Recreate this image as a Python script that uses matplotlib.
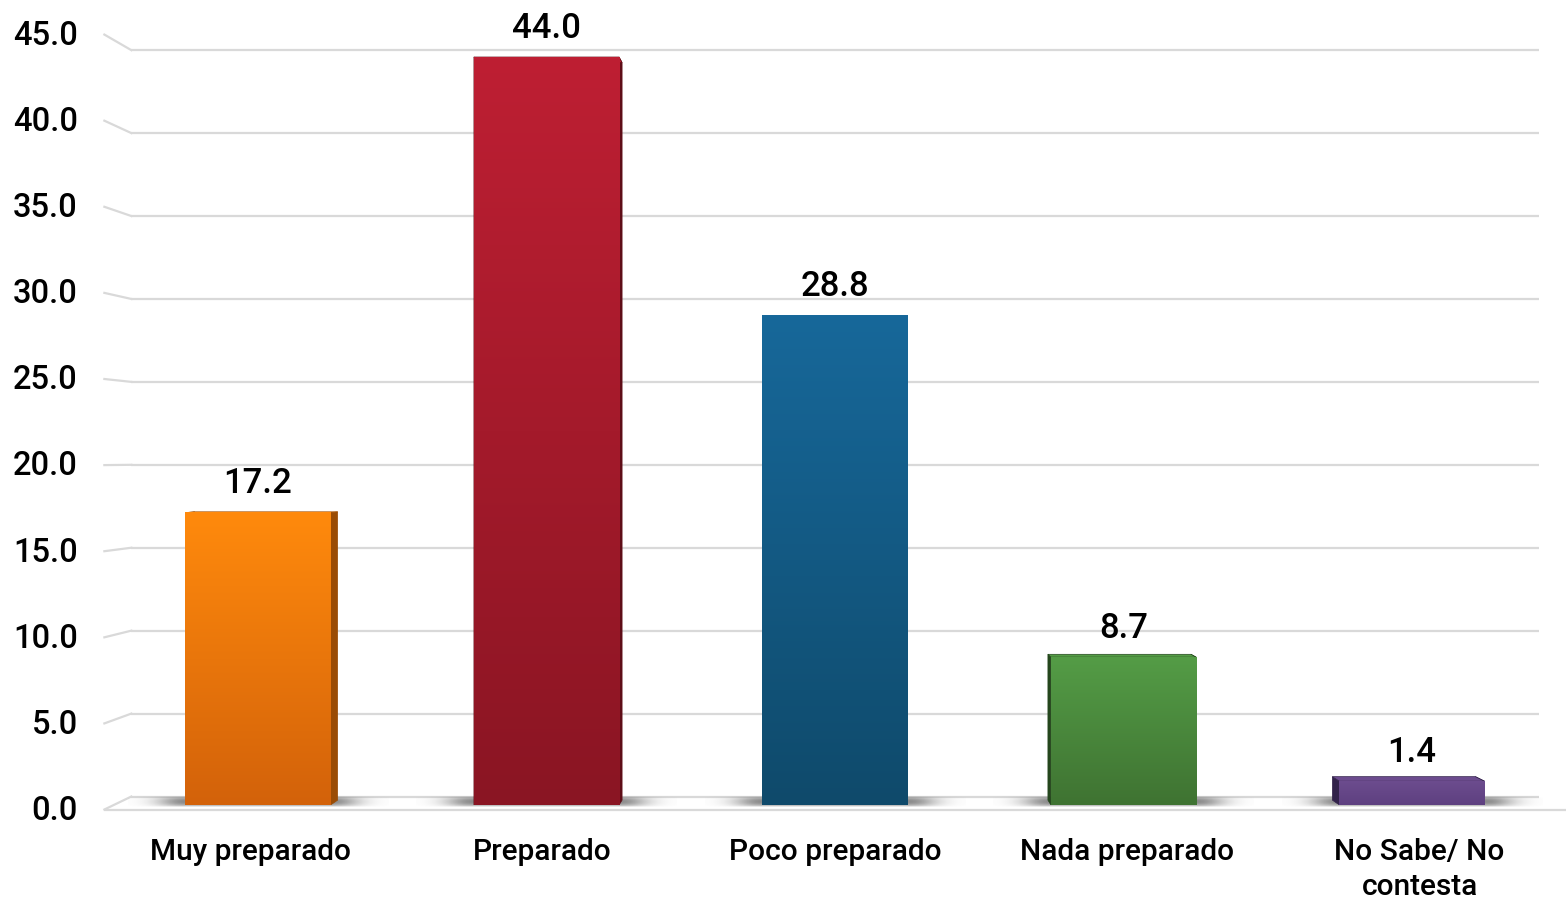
import matplotlib
matplotlib.use('Agg')
import matplotlib.pyplot as plt
import numpy as np
from matplotlib.colors import to_rgb
from matplotlib.patches import Polygon

plt.rcParams['font.family'] = ['Roboto', 'Liberation Sans', 'DejaVu Sans']
plt.rcParams['font.weight'] = 'medium'

# data
categories = ['Muy preparado', 'Preparado', 'Poco preparado', 'Nada preparado', 'No Sabe/ No\ncontesta']
values = [17.2, 44.0, 28.8, 8.7, 1.4]
yticks = [0, 5, 10, 15, 20, 25, 30, 35, 40, 45]

# colours per bar: gradient top, gradient bottom, side face
top_cols = ['#ff8a0d', '#be1f33', '#17689a', '#549c46', '#6c4c8e']
bot_cols = ['#d3620a', '#8a1523', '#0f4a6b', '#3f7332', '#5e4080']
side_cols = ['#9a4c05', '#5e0d17', '#0b3550', '#24461c', '#32224a']
grid_col = '#d9d9d9'

# perspective: planes scaled about a vanishing point (in data units)
VX, VY = 2.0, 20.47
FRONT = 1.013   # front edge of floor / tick labels
BAR_BACK = 0.986
BACK = 0.9757   # back wall
W = 0.503


def proj(x, y, s):
    return VX + (np.asarray(x) - VX) * s, VY + (np.asarray(y) - VY) * s


fig = plt.figure(figsize=(15.66, 9.01), dpi=100)
ax = fig.add_axes([113.75 / 1566, 96 / 901, 1442.5 / 1566, 765 / 901])
ax.set_xlim(-0.5, 4.5)
ax.set_ylim(0, 45)
ax.axis('off')

# back wall gridlines + left wall diagonals
for v in yticks:
    bx, by = proj([-0.5, 4.5], [v, v], BACK)
    ax.plot(bx, by, color=grid_col, lw=1.6, clip_on=False, zorder=1, solid_capstyle='butt')
    fx, fy = proj(-0.5, v, FRONT)
    ax.plot([fx, bx[0]], [fy, by[0]], color=grid_col, lw=1.6, clip_on=False, zorder=1)
    ax.annotate(f'{v:.1f}', (fx, fy), xytext=(-19, -1), textcoords='offset points',
                ha='right', va='center', fontsize=23.5, color='black', annotation_clip=False)

# floor front edge
fx, fy = proj([-0.5, 4.5], [0, 0], FRONT)
ax.plot(fx, fy, color=grid_col, lw=1.6, clip_on=False, zorder=1, solid_capstyle='butt')

for i, v in enumerate(values):
    x0, x1 = i - W / 2, i + W / 2

    # floor shadow
    sx0, sx1 = x0 - 0.2, x1 + 0.2
    xs = np.linspace(sx0, sx1, 300)
    ys = np.linspace(0, 1, 30)
    d = np.clip(np.maximum(x0 - xs, xs - x1), 0, None)
    hprof = np.exp(-(d / 0.1) ** 2)
    vprof = np.sin(np.pi * ys) ** 0.6
    alpha = 0.65 * np.outer(vprof, hprof)
    shadow = np.zeros((30, 300, 4))
    shadow[..., :3] = 0.3
    shadow[..., 3] = alpha
    ax.imshow(shadow, extent=[sx0, sx1, -0.12, 0.5], aspect='auto', origin='lower',
              zorder=2, interpolation='bilinear', clip_on=False)

    # side and top faces
    side = side_cols[i]
    for xe in (x0, x1):
        px, py = proj([xe, xe], [v, 0], BAR_BACK)
        ax.add_patch(Polygon([(xe, 0), (xe, v), (px[0], py[0]), (px[1], py[1])],
                             closed=True, facecolor=side, edgecolor=side, lw=0.5, zorder=3))
    px, py = proj([x1, x0], [v, v], BAR_BACK)
    ax.add_patch(Polygon([(x0, v), (x1, v), (px[0], py[0]), (px[1], py[1])],
                         closed=True, facecolor=top_cols[i], edgecolor=side, lw=0.5, zorder=3))

    # front face gradient
    t = np.linspace(0, 1, 200)[:, None]
    c_top = np.array(to_rgb(top_cols[i]))
    c_bot = np.array(to_rgb(bot_cols[i]))
    grad = (c_bot * (1 - t) + c_top * t)[:, None, :]
    ax.imshow(grad, extent=[x0, x1, 0, v], aspect='auto', origin='lower', zorder=4,
              interpolation='bilinear')

    # value label
    ax.annotate(f'{v:.1f}', (i, v), xytext=(0, 14), textcoords='offset points',
                ha='center', va='baseline', fontsize=25, color='black', annotation_clip=False)

    # category label on front plane
    cx, cy = proj(i, 0, FRONT)
    ax.annotate(categories[i], (cx, cy), xytext=(0, -20.5), textcoords='offset points',
                ha='center', va='top', fontsize=21.5, linespacing=1.3, color='black',
                annotation_clip=False)

ax.set_xlim(-0.5, 4.5)
ax.set_ylim(0, 45)

fig.savefig('out.png', dpi=100, facecolor='white')
